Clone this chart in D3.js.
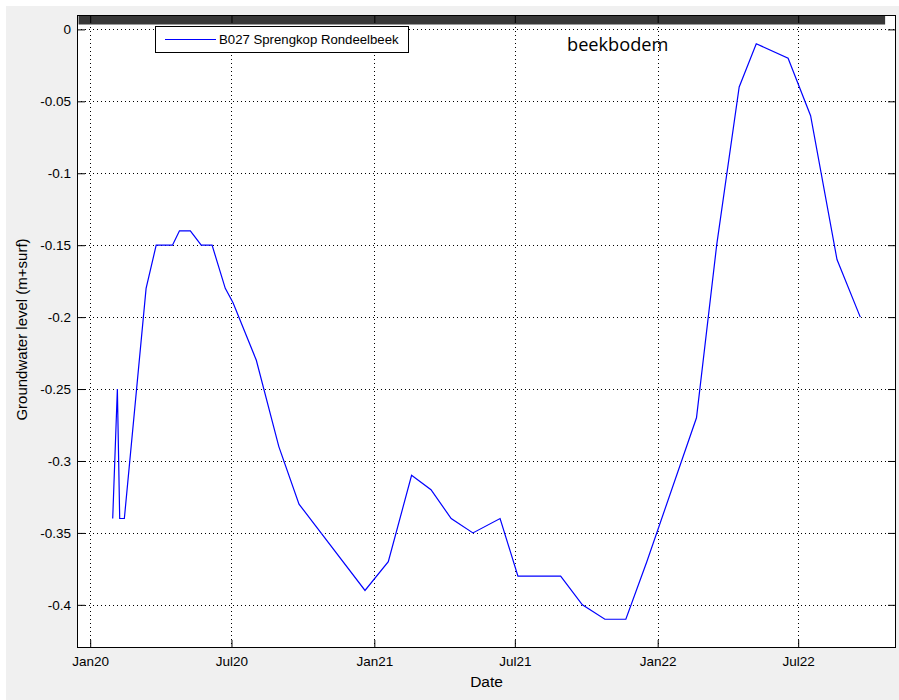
<!DOCTYPE html>
<html><head><meta charset="utf-8">
<script src="https://cdn.jsdelivr.net/npm/d3@7"></script>
<style>html,body{margin:0;padding:0;background:#fff;}svg{display:block;}</style>
</head><body>
<svg id="chart" width="899" height="700"></svg>
<script>
// ---- data ----
const seriesName = "B027 Sprengkop Rondeelbeek";
const dates = ["2020-01-30","2020-02-05","2020-02-08","2020-02-14","2020-03-13","2020-03-26","2020-04-16","2020-04-25","2020-05-09","2020-05-23","2020-06-06","2020-06-23","2020-07-03","2020-08-02","2020-08-31","2020-09-26","2020-12-20","2021-01-19","2021-02-18","2021-03-15","2021-04-10","2021-05-08","2021-06-12","2021-07-05","2021-08-29","2021-09-26","2021-10-25","2021-11-21","2021-12-18","2022-02-20","2022-03-18","2022-04-16","2022-05-08","2022-06-18","2022-07-17","2022-08-20","2022-09-19"];
const levels = [-0.34,-0.25,-0.34,-0.34,-0.18,-0.15,-0.15,-0.14,-0.14,-0.15,-0.15,-0.18,-0.19,-0.23,-0.29,-0.33,-0.39,-0.37,-0.31,-0.32,-0.34,-0.35,-0.34,-0.38,-0.38,-0.40,-0.41,-0.41,-0.37,-0.27,-0.15,-0.04,-0.01,-0.02,-0.06,-0.16,-0.20];
const bedDates = ["2019-12-17","2022-10-21"];
const bedLevel = 0.0066;
const bedLabel = "beekbodem";
const xTickDates = ["2020-01-01","2020-07-01","2021-01-01","2021-07-01","2022-01-01","2022-07-01"];
const xTickLabels = ["Jan20","Jul20","Jan21","Jul21","Jan22","Jul22"];
const yTicks = [0,-0.05,-0.1,-0.15,-0.2,-0.25,-0.3,-0.35,-0.4];
const yTickLabels = ["0","-0.05","-0.1","-0.15","-0.2","-0.25","-0.3","-0.35","-0.4"];
const xDomain = ["2019-12-15","2022-11-04"];
const yDomain = [-0.43, 0.01];
const xTitle = "Date";
const yTitle = "Groundwater level (m+surf)";

// ---- layout ----
const parse = d3.utcParse("%Y-%m-%d");
const L = 77, R = 896, T = 15, B = 648;
const svg = d3.select("#chart");
const font = "'Liberation Sans', Arial, sans-serif";

svg.append("rect").attr("x",0).attr("y",0).attr("width",899).attr("height",700).attr("fill","#fff");
svg.append("rect").attr("x",6).attr("y",6).attr("width",893).attr("height",694).attr("fill","#f0f0f0");
svg.append("rect").attr("x",L).attr("y",T).attr("width",R-L).attr("height",B-T).attr("fill","#fff");

const x = d3.scaleUtc().domain(xDomain.map(parse)).range([L,R]);
const y = d3.scaleLinear().domain(yDomain).range([B,T]);
const xt = xTickDates.map(parse);

// grid
const grid = svg.append("g").attr("stroke","#000").attr("stroke-width",1).attr("stroke-dasharray","1,3");
grid.selectAll("line.v").data(xt).join("line").attr("class","v")
  .attr("x1",d=>Math.round(x(d))+0.5).attr("x2",d=>Math.round(x(d))+0.5).attr("y1",T).attr("y2",B);
grid.selectAll("line.h").data(yTicks).join("line").attr("class","h")
  .attr("y1",d=>Math.round(y(d))+0.5).attr("y2",d=>Math.round(y(d))+0.5).attr("x1",L).attr("x2",R);

// bed line (beekbodem)
svg.append("line")
  .attr("x1",x(parse(bedDates[0]))).attr("x2",x(parse(bedDates[1])))
  .attr("y1",y(bedLevel)).attr("y2",y(bedLevel))
  .attr("stroke","#383838").attr("stroke-width",9);

// series line
const line = d3.line().x((d,i)=>x(parse(dates[i]))).y(d=>y(d));
svg.append("path").datum(levels).attr("d",line)
  .attr("fill","none").attr("stroke","#0000ff").attr("stroke-width",1.2).attr("stroke-linejoin","miter");

// axes
const fmtX = d => xTickLabels[xt.findIndex(t=>+t===+d)];
const fmtY = d => yTickLabels[yTicks.indexOf(d)];
const ax = svg.append("g").attr("transform",`translate(0,${B})`)
  .call(d3.axisBottom(x).tickValues(xt).tickFormat(fmtX).tickSizeInner(-8).tickSizeOuter(0).tickPadding(8));
const ay = svg.append("g").attr("transform",`translate(${L},0)`)
  .call(d3.axisLeft(y).tickValues(yTicks).tickFormat(fmtY).tickSizeInner(-8).tickSizeOuter(0).tickPadding(6));
const axT = svg.append("g").attr("transform",`translate(0,${T})`)
  .call(d3.axisTop(x).tickValues(xt).tickFormat("").tickSizeInner(-8).tickSizeOuter(0));
const ayR = svg.append("g").attr("transform",`translate(${R},0)`)
  .call(d3.axisRight(y).tickValues(yTicks).tickFormat("").tickSizeInner(-8).tickSizeOuter(0));
[ax,ay,axT,ayR].forEach(g=>{
  g.selectAll("text").attr("font-family",font).attr("font-size",13.5).attr("fill","#000");
  g.selectAll("line").attr("stroke","#000");
  g.select(".domain").remove();
});
svg.append("rect").attr("x",L+0.5).attr("y",T+0.5).attr("width",R-L-1).attr("height",B-T-1)
  .attr("fill","none").attr("stroke","#000").attr("stroke-width",1);

// titles
svg.append("text").attr("x",(L+R)/2).attr("y",687).attr("text-anchor","middle")
  .attr("font-family",font).attr("font-size",15.5).text(xTitle);
svg.append("text").attr("transform",`translate(27,${(T+B)/2 - 2}) rotate(-90)`).attr("text-anchor","middle")
  .attr("font-family",font).attr("font-size",15).text(yTitle);

// legend
const lg = svg.append("g");
lg.append("rect").attr("x",155.5).attr("y",26.5).attr("width",253).attr("height",26)
  .attr("fill","#fff").attr("stroke","#000").attr("stroke-width",1);
lg.append("line").attr("x1",165).attr("x2",216).attr("y1",39.5).attr("y2",39.5)
  .attr("stroke","#0000ff").attr("stroke-width",1.2);
lg.append("text").attr("x",219).attr("y",44).attr("font-family",font).attr("font-size",13.2)
  .text(seriesName);

// annotation
svg.append("text").attr("x",567).attr("y",51).attr("font-family","'Open Sans', sans-serif")
  .attr("font-size",18.2).attr("fill","#000").text(bedLabel);
</script>
</body></html>
